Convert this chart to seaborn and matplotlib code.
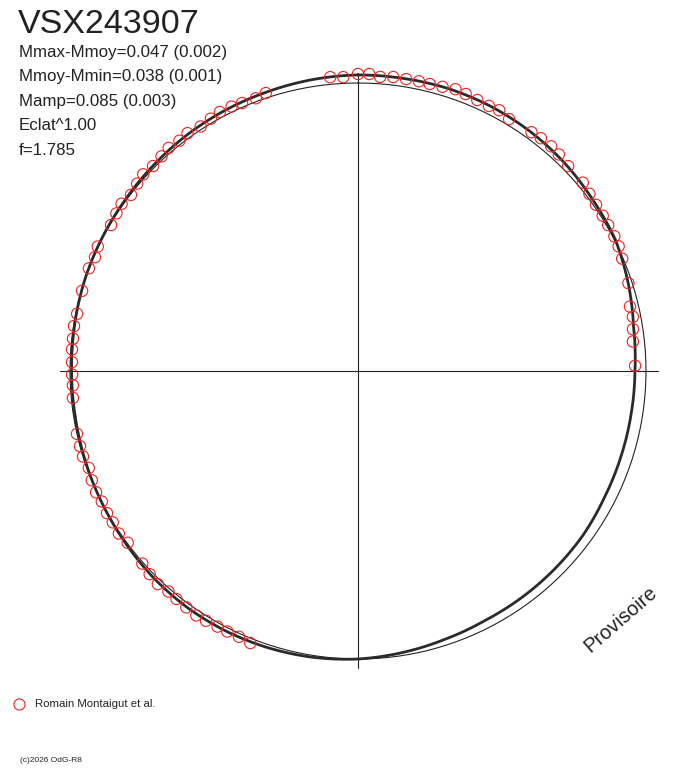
import numpy as np
import pandas as pd
import matplotlib
matplotlib.use('Agg')
import matplotlib.pyplot as plt
from matplotlib.lines import Line2D
import seaborn as sns

# Phase-folded light curve of VSX243907 (phase -> angle, clockwise from top)
# magnitude offsets from the mean (mag), brighter = negative = drawn outward

# fitted curve
curve_phase = [0.000, 0.025, 0.050, 0.075, 0.100, 0.125, 0.150, 0.175, 0.200, 0.225,
               0.250, 0.275, 0.300, 0.325, 0.350, 0.375, 0.400, 0.425, 0.450, 0.475,
               0.500, 0.525, 0.550, 0.575, 0.600, 0.625, 0.650, 0.675, 0.700, 0.725,
               0.750, 0.775, 0.800, 0.825, 0.850, 0.875, 0.900, 0.925, 0.950, 0.975]
curve_dmag = [-0.035, -0.035, -0.037, -0.035, -0.030, -0.022, -0.011, -0.004, 0.017, 0.039,
              0.048, 0.050, 0.050, 0.048, 0.041, 0.039, 0.037, 0.035, 0.026, 0.013,
              0.000, -0.008, -0.013, -0.016, -0.016, -0.012, -0.005, 0.000, 0.004, 0.007,
              0.007, 0.004, 0.000, -0.002, -0.004, -0.009, -0.015, -0.020, -0.024, -0.030]

# observations (Romain Montaigut et al.)
obs_phase = [0.985, 0.992, 0.000, 0.006, 0.012, 0.019, 0.026, 0.033, 0.039, 0.046,
             0.053, 0.059, 0.066, 0.073, 0.079, 0.086, 0.100, 0.106, 0.113, 0.119,
             0.127, 0.139, 0.146, 0.153, 0.160, 0.166, 0.173, 0.179, 0.186, 0.200,
             0.213, 0.219, 0.226, 0.233, 0.247,
             0.560, 0.567, 0.574, 0.580, 0.587, 0.593, 0.600, 0.607, 0.613, 0.620,
             0.627, 0.634, 0.648, 0.655, 0.662, 0.668, 0.675, 0.681, 0.688, 0.695,
             0.702, 0.708, 0.715,
             0.735, 0.742, 0.748, 0.755, 0.762, 0.768, 0.775, 0.782, 0.795, 0.808,
             0.815, 0.821, 0.835, 0.842, 0.848, 0.855, 0.862, 0.868, 0.875, 0.882,
             0.888, 0.895, 0.901, 0.909, 0.916, 0.922, 0.929, 0.935, 0.943, 0.949]
obs_dmag = [-0.031, -0.027, -0.039, -0.040, -0.030, -0.035, -0.034, -0.035, -0.034, -0.037,
            -0.044, -0.040, -0.035, -0.033, -0.037, -0.025, -0.031, -0.035, -0.036, -0.032,
            -0.024, -0.023, -0.015, -0.010, -0.008, -0.007, -0.007, -0.004, 0.004, 0.016,
            0.037, 0.034, 0.043, 0.050, 0.047,
            -0.020, -0.014, -0.015, -0.016, -0.019, -0.022, -0.018, -0.015, -0.012, -0.019,
            -0.013, -0.005, 0.003, -0.005, -0.001, -0.002, 0.002, -0.003, 0.001, 0.008,
            0.000, 0.000, 0.000,
            0.007, 0.011, 0.009, 0.008, 0.005, 0.005, 0.002, 0.006, 0.003, 0.000,
            0.006, -0.002, 0.005, -0.002, -0.007, 0.003, -0.007, -0.014, -0.008, -0.013,
            -0.020, -0.015, -0.020, -0.012, -0.018, -0.024, -0.022, -0.017, -0.014, -0.021]

stats_lines = ['Mmax-Mmoy=0.047 (0.002)', 'Mmoy-Mmin=0.038 (0.001)',
               'Mamp=0.085 (0.003)', 'Eclat^1.00', 'f=1.785']

SCALE = 0.8  # radius change per magnitude (mean radius = 1)

curve = pd.DataFrame({'phase': curve_phase + [curve_phase[0] + 1.0],
                      'dmag': curve_dmag + [curve_dmag[0]]})
curve['theta'] = 2 * np.pi * curve['phase']
curve['r'] = 1 - SCALE * curve['dmag']

obs = pd.DataFrame({'phase': obs_phase, 'dmag': obs_dmag})
obs['theta'] = 2 * np.pi * obs['phase']
obs['r'] = 1 - SCALE * obs['dmag']

sns.set_style('white')
plt.rcParams['font.family'] = ['Liberation Sans', 'DejaVu Sans']

W, H = 688, 768
fig = plt.figure(figsize=(W / 100, H / 100), dpi=100)

# polar axes centred on pixel (358, 371), 288 px per unit radius
RMAX = 1.1
rad_px = 288 * RMAX
ax = fig.add_axes([(358 - rad_px) / W, (H - 371 - rad_px) / H, 2 * rad_px / W, 2 * rad_px / H],
                  projection='polar')
ax.set_theta_zero_location('N')
ax.set_theta_direction(-1)

ink = '#222222'
# cross through the centre
ax.plot([0, 0], [0, 1.035], color=ink, lw=0.8)
ax.plot([np.pi / 2, np.pi / 2], [0, 1.042], color=ink, lw=0.8)
ax.plot([np.pi, np.pi], [0, 1.031], color=ink, lw=0.8)
ax.plot([3 * np.pi / 2, 3 * np.pi / 2], [0, 1.035], color=ink, lw=0.8)

# mean magnitude circle
t = np.linspace(0, 2 * np.pi, 361)
ax.plot(t, np.ones_like(t), color=ink, lw=0.8)

# fitted curve (drawn along arcs by the polar transform)
n_before = len(ax.lines)
sns.lineplot(data=curve, x='theta', y='r', sort=False, estimator=None,
             color='#2a2a2a', lw=2.0, ax=ax)
for ln in ax.lines[n_before:]:
    ln.get_path()._interpolation_steps = 30

# observations
ax.scatter(obs['theta'], obs['r'], s=66, marker='o', facecolors='none',
           edgecolors='#ee2222', linewidths=0.8, zorder=5)
ax.set_rlim(0, RMAX)
ax.axis('off')

# texts
fig.text(18 / W, 1 - 33 / H, 'VSX243907', fontsize=24.5, color=ink, va='baseline')
for i, line in enumerate(stats_lines):
    fig.text(19 / W, 1 - (57 + 24.5 * i) / H, line, fontsize=12.2, color=ink, va='baseline')

fig.text(621 / W, 1 - 619 / H, 'Provisoire', fontsize=14.5, color=ink, rotation=41,
         rotation_mode='anchor', ha='center', va='center')

fig.add_artist(Line2D([19 / W], [1 - 704 / H], marker='o', ms=8, mfc='none',
                      mec='#ee2222', mew=0.8, transform=fig.transFigure))
fig.text(35 / W, 1 - 704 / H, 'Romain Montaigut et al.', fontsize=8.2, color=ink,
         va='center')
fig.text(20 / W, 1 - 761 / H, '(c)2026 OdG-R8', fontsize=6, color=ink, va='center')

fig.savefig('out.png', dpi=100)
